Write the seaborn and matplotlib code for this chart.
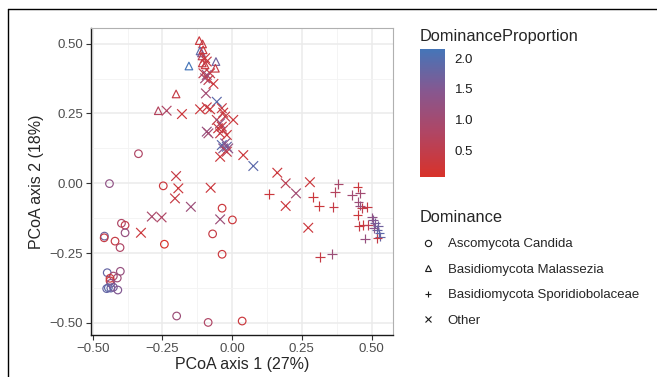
import pandas as pd
import seaborn as sns
import matplotlib.pyplot as plt
from matplotlib.colors import LinearSegmentedColormap, Normalize
from matplotlib.cm import ScalarMappable
from matplotlib.lines import Line2D

# Ascomycota Candida
cand_x = [-0.336, -0.440, -0.247, -0.036, 0.001, -0.070, -0.243, -0.036, -0.397, -0.384,
          -0.384, -0.458, -0.459, -0.420, -0.402, -0.448, -0.401, -0.426, -0.412, -0.438,
          -0.438, -0.435, -0.444, -0.435, -0.426, -0.410, -0.450, -0.199, -0.086, 0.036]
cand_y = [0.106, -0.001, -0.009, -0.089, -0.131, -0.181, -0.218, -0.254, -0.143, -0.150,
          -0.177, -0.189, -0.195, -0.207, -0.230, -0.320, -0.315, -0.332, -0.339, -0.340,
          -0.349, -0.358, -0.374, -0.375, -0.372, -0.382, -0.377, -0.475, -0.498, -0.493]
cand_p = [0.8, 1.3, 0.3, 0.3, 0.3, 0.4, 0.06, 0.3, 0.8, 0.5,
          1.2, 1.7, 0.4, 0.4, 0.8, 1.8, 1.2, 1.0, 1.1, 0.3,
          0.3, 1.3, 1.9, 1.8, 1.6, 1.5, 1.8, 1.1, 0.8, 0.3]

# Basidiomycota Malassezia
mala_x = [-0.118, -0.106, -0.115, -0.110, -0.108, -0.104, -0.107, -0.097, -0.155, -0.058,
          -0.060, -0.201, -0.265]
mala_y = [0.511, 0.499, 0.474, 0.467, 0.456, 0.478, 0.431, 0.424, 0.420, 0.436,
          0.412, 0.320, 0.260]
mala_p = [0.3, 0.4, 1.9, 1.4, 0.5, 0.3, 0.4, 0.3, 2.15, 1.7,
          0.4, 0.4, 0.7]

# Basidiomycota Sporidiobolaceae
spor_x = [0.133, 0.289, 0.311, 0.363, 0.381, 0.370, 0.430, 0.450, 0.459, 0.453,
          0.459, 0.465, 0.483, 0.450, 0.456, 0.471, 0.489, 0.501, 0.506, 0.513,
          0.519, 0.528, 0.530, 0.477, 0.521, 0.315, 0.359, 0.509, 0.523]
spor_y = [-0.038, -0.048, -0.081, -0.084, -0.002, -0.032, -0.042, -0.014, -0.036, -0.066,
          -0.080, -0.089, -0.084, -0.113, -0.153, -0.149, -0.149, -0.122, -0.131, -0.143,
          -0.167, -0.179, -0.191, -0.198, -0.197, -0.263, -0.254, -0.159, -0.153]
spor_p = [0.3, 0.3, 0.3, 0.4, 0.9, 0.7, 1.0, 0.3, 1.0, 1.1,
          1.2, 0.5, 0.4, 0.3, 0.4, 0.3, 0.6, 1.3, 1.5, 1.6,
          1.8, 1.9, 1.8, 1.2, 0.4, 0.4, 1.1, 1.4, 1.7]

# Other
oth_x = [-0.097, -0.091, -0.103, -0.091, -0.079, -0.097, -0.085, -0.067, -0.094, -0.055,
         -0.235, -0.180, -0.115, -0.091, -0.079, -0.037, -0.032, -0.025, 0.004, -0.055,
         -0.043, -0.037, -0.050, -0.032, -0.091, -0.085, -0.043, -0.019, -0.037, -0.025,
         -0.019, -0.032, -0.014, -0.019, -0.043, 0.040, 0.076, 0.162, 0.192, 0.229,
         0.192, 0.279, 0.273, -0.201, -0.193, -0.077, -0.205, -0.148, -0.288, -0.253,
         -0.327, -0.043]
oth_y = [0.448, 0.436, 0.394, 0.388, 0.394, 0.376, 0.370, 0.356, 0.322, 0.292,
         0.260, 0.248, 0.265, 0.272, 0.265, 0.269, 0.253, 0.239, 0.227, 0.227,
         0.215, 0.203, 0.197, 0.191, 0.185, 0.179, 0.179, 0.173, 0.137, 0.143,
         0.131, 0.125, 0.125, 0.113, 0.095, 0.101, 0.062, 0.038, 0.000, -0.036,
         -0.081, 0.004, -0.159, 0.026, -0.018, -0.016, -0.054, -0.084, -0.119, -0.122,
         -0.177, -0.129]
oth_p = [0.3, 0.4, 0.5, 1.1, 0.4, 1.0, 0.5, 0.3, 1.0, 1.9,
         0.8, 0.3, 0.3, 0.4, 0.3, 0.4, 0.3, 0.4, 0.3, 0.5,
         1.2, 0.4, 0.3, 0.5, 1.2, 1.0, 0.4, 0.3, 1.9, 1.4,
         1.8, 1.5, 1.3, 0.5, 0.3, 0.3, 1.9, 0.3, 0.6, 1.0,
         0.3, 0.3, 0.3, 0.4, 0.3, 0.3, 0.4, 1.1, 0.9, 0.8,
         0.3, 1.1]

groups = ['Ascomycota Candida', 'Basidiomycota Malassezia',
          'Basidiomycota Sporidiobolaceae', 'Other']
shapes = ['o', '^', '+', 'x']

frames = []
for g, xs, ys, ps in zip(groups, [cand_x, mala_x, spor_x, oth_x],
                         [cand_y, mala_y, spor_y, oth_y], [cand_p, mala_p, spor_p, oth_p]):
    frames.append(pd.DataFrame({'PC1': xs, 'PC2': ys, 'DominanceProportion': ps, 'Dominance': g}))
df = pd.concat(frames, ignore_index=True)

sns.set_style('white')
plt.rcParams['font.family'] = ['Liberation Sans', 'DejaVu Sans']

cmap = LinearSegmentedColormap.from_list('rb', ['#D8322A', '#B14562', '#87578F', '#4575B8'])
norm = Normalize(df['DominanceProportion'].min(), df['DominanceProportion'].max())

fig = plt.figure(figsize=(6.57, 3.77), dpi=100)
ax = fig.add_axes([90.5 / 657, 1 - 335 / 377, (393 - 90.5) / 657, (335 - 28.3) / 377])

for g, mk in zip(groups, shapes):
    sub = df[df['Dominance'] == g]
    sns.scatterplot(data=sub, x='PC1', y='PC2', hue='DominanceProportion', palette=cmap,
                    hue_norm=norm, marker=mk, s=30 if mk in ('o', '^') else 48,
                    linewidth=0.85, legend=False, ax=ax, zorder=3)
    coll = ax.collections[-1]
    if mk in ('o', '^'):
        fc = coll.get_facecolors()
        coll.set_edgecolors(fc)
        coll.set_facecolors('none')

ax.set_xlim(-0.508, 0.577)
ax.set_ylim(-0.543, 0.555)
ticks = [-0.5, -0.25, 0, 0.25, 0.5]
ax.set_xticks(ticks)
ax.set_yticks(ticks)
ax.set_xticklabels(['\u22120.50', '\u22120.25', '0.00', '0.25', '0.50'])
ax.set_yticklabels(['\u22120.50', '\u22120.25', '0.00', '0.25', '0.50'])
ax.set_xticks([-0.375, -0.125, 0.125, 0.375], minor=True)
ax.set_yticks([-0.375, -0.125, 0.125, 0.375], minor=True)
ax.grid(True, which='major', color='#EBEBEB', lw=1.1, zorder=0)
ax.grid(True, which='minor', color='#F3F3F3', lw=0.6, zorder=0)
ax.set_axisbelow(True)
ax.tick_params(which='major', direction='out', length=3.5, width=0.8, color='#333333',
               labelsize=9.5, labelcolor='#4D4D4D', pad=2, bottom=True, left=True)
ax.tick_params(which='minor', length=0)
for side in ['left', 'bottom']:
    ax.spines[side].set_color('#1A1A1A')
    ax.spines[side].set_linewidth(1.0)
for side in ['top', 'right']:
    ax.spines[side].set_color('#B0B0B0')
    ax.spines[side].set_linewidth(0.8)
ax.set_xlabel('PCoA axis 1 (27%)', fontsize=11.5, labelpad=2)
ax.set_ylabel('PCoA axis 2 (18%)', fontsize=11.5, labelpad=4)

# colour bar
cax = fig.add_axes([420 / 657, 1 - 177 / 377, 25 / 657, 128 / 377])
cb = fig.colorbar(ScalarMappable(norm=norm, cmap=cmap), cax=cax, ticks=[0.5, 1.0, 1.5, 2.0])
cb.outline.set_visible(False)
cb.ax.set_yticklabels(['0.5', '1.0', '1.5', '2.0'])
cb.minorticks_off()
cax.tick_params(direction='in', color='white', length=5, width=1.0, left=True, right=True,
                labelleft=False, labelright=True, labelcolor='#1A1A1A', labelsize=9.5, pad=7)
fig.text(420 / 657, 1 - 36 / 377, 'DominanceProportion', fontsize=11.8, va='center', ha='left')

# shape legend
handles = []
for mk in shapes:
    if mk in ('o', '^'):
        handles.append(Line2D([], [], ls='', marker=mk, mfc='none', mec='#1A1A1A', ms=4.5, mew=0.8))
    else:
        handles.append(Line2D([], [], ls='', marker=mk, color='#1A1A1A', ms=5, mew=0.8))
leg = fig.legend(handles, groups, title='Dominance', loc='upper left',
                 bbox_to_anchor=(408 / 657, 1 - 198 / 377), frameon=False,
                 fontsize=9.5, title_fontsize=11.8, labelspacing=1.0,
                 handletextpad=0.8, handlelength=1.3, alignment='left')

# outer frame lines
fig.add_artist(Line2D([8 / 657, 1], [1 - 9 / 377, 1 - 9 / 377], color='black', lw=1.0))
fig.add_artist(Line2D([8 / 657, 8 / 657], [0, 1 - 9 / 377], color='black', lw=1.0))

fig.savefig('out.png', dpi=100)
